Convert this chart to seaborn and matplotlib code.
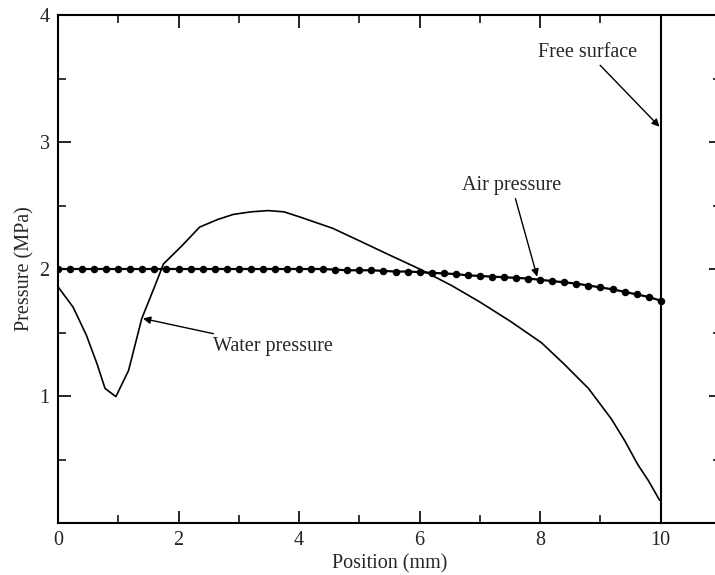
import matplotlib
matplotlib.use("Agg")
import matplotlib.pyplot as plt
import seaborn as sns
import pandas as pd
from matplotlib.ticker import MultipleLocator, FixedLocator

# ---- data ----
water_x = [0, 0.25, 0.47, 0.65, 0.78, 0.96, 1.17, 1.39, 1.61, 1.75, 2.05, 2.35,
           2.65, 2.91, 3.2, 3.49, 3.75, 4.01, 4.56, 5.01, 5.5, 6.0, 6.53, 7.0,
           7.5, 8.02, 8.4, 8.8, 9.18, 9.4, 9.62, 9.8, 9.98]
water_y = [1.86, 1.70, 1.48, 1.25, 1.06, 0.995, 1.20, 1.61, 1.87, 2.04, 2.18, 2.33,
           2.39, 2.43, 2.45, 2.46, 2.45, 2.41, 2.32, 2.22, 2.11, 2.00, 1.87, 1.74,
           1.59, 1.42, 1.25, 1.06, 0.82, 0.65, 0.46, 0.33, 0.18]

air_x = [0.0, 0.2, 0.4, 0.6, 0.8, 1.0, 1.2, 1.4, 1.6, 1.8, 2.0, 2.2, 2.4, 2.6, 2.8,
         3.0, 3.2, 3.4, 3.6, 3.8, 4.0, 4.2, 4.4, 4.6, 4.8, 5.0, 5.2, 5.4, 5.6, 5.8,
         6.0, 6.2, 6.4, 6.6, 6.8, 7.0, 7.2, 7.4, 7.6, 7.8, 8.0, 8.2, 8.4, 8.6, 8.8,
         9.0, 9.2, 9.4, 9.6, 9.8, 10.0]
air_y = [2.00, 2.00, 2.00, 2.00, 2.00, 2.00, 2.00, 2.00, 2.00, 2.00, 2.00, 2.00,
         2.00, 2.00, 2.00, 2.00, 2.00, 2.00, 2.00, 2.00, 2.00, 2.00, 2.00, 1.995,
         1.99, 1.99, 1.99, 1.985, 1.98, 1.98, 1.975, 1.97, 1.965, 1.96, 1.95, 1.945,
         1.94, 1.935, 1.93, 1.925, 1.915, 1.905, 1.895, 1.885, 1.87, 1.855, 1.84,
         1.82, 1.80, 1.78, 1.75]

free_surface_x = 10.0

x_major_ticks = [0, 2, 4, 6, 8, 10]
x_tick_labels = ["0", "2", "4", "6", "8", "10"]
y_major_ticks = [1, 2, 3, 4]
y_tick_labels = ["1", "2", "3", "4"]

water_df = pd.DataFrame({"Position": water_x, "Pressure": water_y})
air_df = pd.DataFrame({"Position": air_x, "Pressure": air_y})

# ---- style ----
sns.set_theme(style="ticks")
plt.rcParams["font.family"] = ["Liberation Serif", "DejaVu Serif"]
FS = 14.5

fig = plt.figure(figsize=(7.15, 5.75), dpi=100)
ax = fig.add_axes([58 / 715, 52 / 575, 663 / 715, 508 / 575])

sns.lineplot(data=water_df, x="Position", y="Pressure", ax=ax, color="black",
             linewidth=1.2, sort=False, estimator=None)
sns.lineplot(data=air_df, x="Position", y="Pressure", ax=ax, color="black",
             linewidth=1.6, marker="o", markersize=5.4, markeredgewidth=0,
             sort=False, estimator=None)
ax.axvline(free_surface_x, color="black", linewidth=1.5)

ax.set_xlim(0, 11)
ax.set_ylim(0, 4)

ax.xaxis.set_major_locator(FixedLocator(x_major_ticks))
ax.set_xticklabels(x_tick_labels, fontsize=FS)
ax.xaxis.set_minor_locator(MultipleLocator(1))
ax.yaxis.set_major_locator(FixedLocator(y_major_ticks))
ax.set_yticklabels(y_tick_labels, fontsize=FS)
ax.yaxis.set_minor_locator(MultipleLocator(0.5))

ax.tick_params(which="both", direction="in", top=True, right=True, color="black")
ax.tick_params(which="major", length=9, width=1.2, pad=6)
ax.tick_params(which="minor", length=5.5, width=1.1)
for s in ax.spines.values():
    s.set_color("black")
    s.set_linewidth(1.5)

ax.set_xlabel("Position (mm)", fontsize=FS, labelpad=3)
ax.set_ylabel("Pressure (MPa)", fontsize=FS, labelpad=4)

arrow = dict(arrowstyle="-|>", color="black", lw=1.0, mutation_scale=11,
             shrinkA=0, shrinkB=0)
ax.annotate("Free surface", xy=(9.98, 3.12), xytext=(8.79, 3.63),
            fontsize=FS, ha="center", va="bottom", arrowprops=arrow)
ax.annotate("Air pressure", xy=(7.95, 1.94), xytext=(7.53, 2.58),
            fontsize=FS, ha="center", va="bottom", arrowprops=arrow)
ax.annotate("Water pressure", xy=(1.41, 1.61), xytext=(2.57, 1.39),
            fontsize=FS, ha="left", va="center", arrowprops=arrow)

fig.savefig("out.png", dpi=100)
